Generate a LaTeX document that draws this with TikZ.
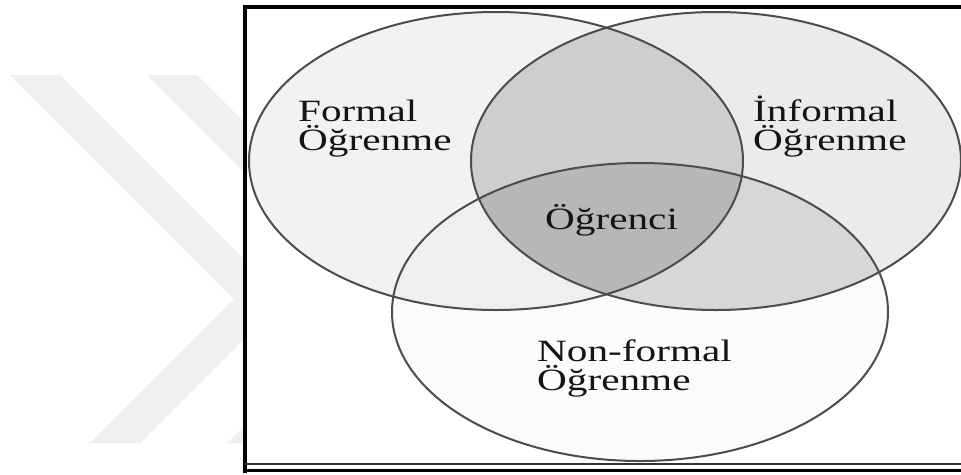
\documentclass[tikz,border=0pt]{standalone}
\usepackage{fontspec}
\setmainfont{Liberation Serif}
\newcommand{\widetxt}[1]{\scalebox{1.33}[1]{#1}}
\begin{document}
\begin{tikzpicture}[x=1pt,y=-1pt,
  lbl/.style={anchor=base west, inner sep=0pt, align=left, text=black!92, font=\fontsize{31}{29}\selectfont},
  ring/.style={draw=black!70, line width=2pt},
  framebar/.style={draw=black, line width=3.5pt}]
\definecolor{chev}{HTML}{F0F0F0}
\definecolor{cF}{HTML}{F2F2F2}
\definecolor{cI}{HTML}{EBEBEB}
\definecolor{cN}{HTML}{FBFBFB}
\definecolor{cFN}{HTML}{EFEFEF}
\definecolor{cIN}{HTML}{D7D7D7}
\definecolor{cFI}{HTML}{CECECE}
\definecolor{cFIN}{HTML}{B7B7B7}
\useasboundingbox (0,0) rectangle (961,474);
\fill[white] (0,0) rectangle (961,474);
% watermark chevrons
\fill[chev] (10,75) -- (60,75) -- (284,299) -- (140,443) -- (90,443) -- (234,299) -- cycle;
\fill[chev] (147,75) -- (197,75) -- (421,299) -- (277,443) -- (227,443) -- (371,299) -- cycle;
% frame interior
\fill[white] (245,7) rectangle (961,470);
% centres
\coordinate (F) at (496,161);
\coordinate (I) at (716,161);
\coordinate (N) at (640,312);
% single regions
\fill[cF] (F) ellipse [x radius=247pt, y radius=149pt];
\fill[cI] (I) ellipse [x radius=245pt, y radius=149pt];
\fill[cN] (N) ellipse [x radius=248pt, y radius=149pt];
% pairwise
\begin{scope}
  \clip (F) ellipse [x radius=247pt, y radius=149pt];
  \fill[cFN] (N) ellipse [x radius=248pt, y radius=149pt];
  \fill[cFI] (I) ellipse [x radius=245pt, y radius=149pt];
\end{scope}
\begin{scope}
  \clip (I) ellipse [x radius=245pt, y radius=149pt];
  \fill[cIN] (N) ellipse [x radius=248pt, y radius=149pt];
\end{scope}
\begin{scope}
  \clip (F) ellipse [x radius=247pt, y radius=149pt];
  \clip (I) ellipse [x radius=245pt, y radius=149pt];
  \fill[cFIN] (N) ellipse [x radius=248pt, y radius=149pt];
\end{scope}
% outlines
\draw[ring] (F) ellipse [x radius=247pt, y radius=149pt];
\draw[ring] (I) ellipse [x radius=245pt, y radius=149pt];
\draw[ring] (N) ellipse [x radius=248pt, y radius=149pt];
% labels
\node[lbl] (fo) at (298,150) {\widetxt{Formal}\\\widetxt{Öğrenme}};
\node[lbl] (io) at (753,150) {\widetxt{İnformal}\\\widetxt{Öğrenme}};
\node[lbl] (c) at (545,229) {\widetxt{Öğrenci}};
\node[lbl] (no) at (537,390) {\widetxt{Non-formal}\\\widetxt{Öğrenme}};
% frame
\draw[framebar] (245,473) -- (245,7) -- (961,7);
\draw[draw=black!80, line width=2pt] (245,464) -- (961,464);
\draw[draw=black, line width=3pt] (243.25,470.5) -- (961,470.5);
\end{tikzpicture}
\end{document}
